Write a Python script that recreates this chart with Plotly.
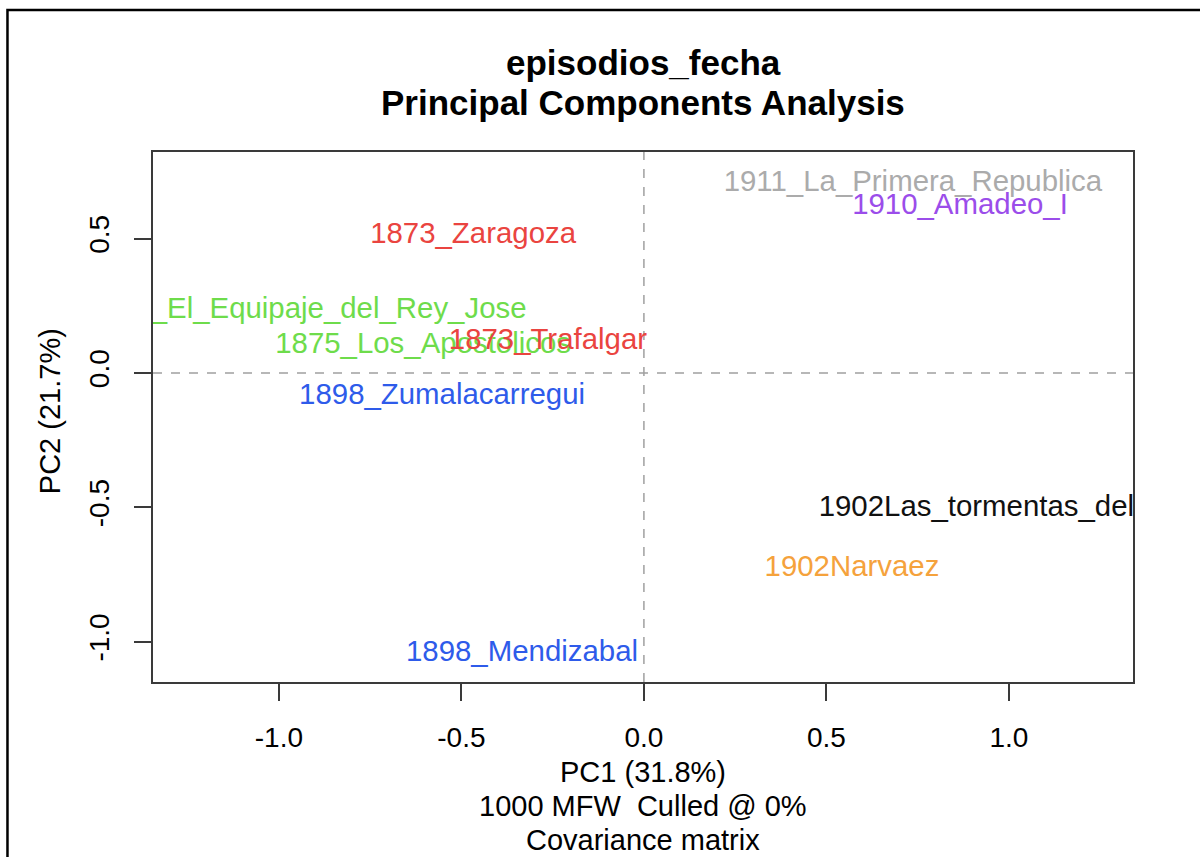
import plotly.graph_objects as go

# ---- data ----
labels = [
    "1911_La_Primera_Republica",
    "1910_Amadeo_I",
    "1873_Zaragoza",
    "1875_El_Equipaje_del_Rey_Jose",
    "1875_Los_Apostolicos",
    "1873_Trafalgar",
    "1898_Zumalacarregui",
    "1902Las_tormentas_del_48",
    "1902Narvaez",
    "1898_Mendizabal",
]
pc1 = [0.737, 0.866, -0.468, -0.926, -0.605, -0.263, -0.553, 0.978, 0.570, -0.334]
pc2 = [0.703, 0.618, 0.510, 0.231, 0.100, 0.115, -0.089, -0.506, -0.730, -1.046]
colors = ["#ABABAB", "#9B4DEA", "#EA4440", "#6EDC4B", "#6EDC4B",
          "#EA4440", "#2E5BEA", "#111111", "#F5A23C", "#2E5BEA"]

x_ticks = [-1.0, -0.5, 0.0, 0.5, 1.0]
x_ticktext = ["-1.0", "-0.5", "0.0", "0.5", "1.0"]
y_ticks = [-1.0, -0.5, 0.0, 0.5]
y_ticktext = ["-1.0", "-0.5", "0.0", "0.5"]

title1 = "episodios_fecha"
title2 = "Principal Components Analysis"
xlab_lines = ["PC1 (31.8%)", "1000 MFW  Culled @ 0%", "Covariance matrix"]
ylab = "PC2 (21.7%)"

FONT = "Liberation Sans, Arial, Helvetica, sans-serif"
AX = "#3a3a3a"

fig = go.Figure()
fig.add_trace(go.Scatter(
    x=pc1, y=pc2, mode="text", text=labels,
    textposition="middle center",
    textfont=dict(family=FONT, size=29.4, color=colors),
    cliponaxis=True, hoverinfo="text", showlegend=False,
))

# dashed zero lines
fig.add_shape(type="line", x0=0, x1=0, xref="x", y0=0, y1=1, yref="paper",
              line=dict(color="#A0A0A0", width=1.5, dash="dash"), layer="below")
fig.add_shape(type="line", y0=0, y1=0, yref="y", x0=0, x1=1, xref="paper",
              line=dict(color="#A0A0A0", width=1.5, dash="dash"), layer="below")

# outer frame of the picture
fig.add_shape(type="rect", xref="paper", yref="paper",
              x0=-0.1485, x1=1.2, y0=-0.5, y1=1.268,
              line=dict(color="black", width=2.5), layer="above")

annots = []
annots.append(dict(text="<b>%s</b>" % title1, x=0.5, y=1.1698, xref="paper", yref="paper",
                   showarrow=False, font=dict(family=FONT, size=35, color="black"),
                   xanchor="center", yanchor="middle"))
annots.append(dict(text="<b>%s</b>" % title2, x=0.5, y=1.0925, xref="paper", yref="paper",
                   showarrow=False, font=dict(family=FONT, size=35, color="black"),
                   xanchor="center", yanchor="middle"))
for line, yp in zip(xlab_lines, [-0.1698, -0.234, -0.298]):
    annots.append(dict(text=line, x=0.5, y=yp, xref="paper", yref="paper",
                       showarrow=False, font=dict(family=FONT, size=29, color="black"),
                       xanchor="center", yanchor="middle"))
annots.append(dict(text=ylab, x=-0.1051, y=0.511, xref="paper", yref="paper",
                   showarrow=False, textangle=-90,
                   font=dict(family=FONT, size=29, color="black"),
                   xanchor="center", yanchor="middle"))

fig.update_layout(
    width=1200, height=857,
    margin=dict(l=153, r=67, t=152, b=175),
    paper_bgcolor="white", plot_bgcolor="white",
    annotations=annots,
    xaxis=dict(range=[-1.345, 1.34], tickvals=x_ticks, ticktext=x_ticktext,
               showgrid=False, zeroline=False, showline=True, mirror=True,
               linecolor=AX, linewidth=2, ticks="outside", ticklen=17,
               tickwidth=2, tickcolor=AX, ticklabelstandoff=12,
               tickfont=dict(family=FONT, size=28, color="black")),
    yaxis=dict(range=[-1.15, 0.822], tickvals=y_ticks, ticktext=y_ticktext,
               showgrid=False, zeroline=False, showline=True, mirror=True,
               linecolor=AX, linewidth=2, ticks="outside", ticklen=17,
               tickwidth=2, tickcolor=AX, tickangle=-90, ticklabelstandoff=14,
               tickfont=dict(family=FONT, size=28, color="black")),
)

fig.write_html("out.html", config={"displayModeBar": False},
               post_script="document.body.style.margin='0';document.body.style.overflow='hidden';")
